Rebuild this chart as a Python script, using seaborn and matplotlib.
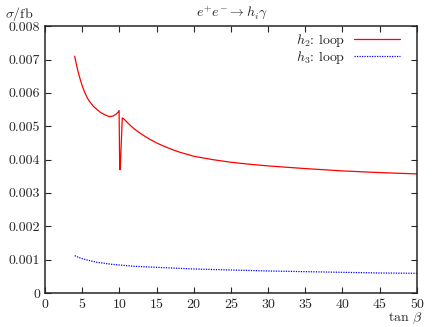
import numpy as np
import seaborn as sns
import matplotlib.pyplot as plt
from matplotlib.ticker import FuncFormatter

# dane
tanb_h2 = [4, 4.25, 4.5, 4.75, 5, 5.25, 5.5, 5.75, 6, 6.5, 7, 7.5, 8, 8.5, 8.8, 9.2, 9.5, 9.8,
           9.97, 10.05, 10.12, 10.4, 10.7, 11, 11.5, 12, 13, 14, 15, 16, 17, 18, 20,
           22.5, 25, 27.5, 30, 35, 40, 45, 50]
sigma_h2 = [0.0071, 0.00683, 0.0066, 0.0064, 0.00622, 0.00607, 0.00594, 0.00583, 0.00574,
            0.0056, 0.0055, 0.00541, 0.00535, 0.0053, 0.00529, 0.00531, 0.00535, 0.00541,
            0.00547, 0.0037, 0.0037, 0.00525, 0.0052, 0.00513, 0.00502, 0.00492, 0.00476,
            0.00462, 0.0045, 0.0044, 0.00431, 0.00423, 0.0041, 0.004, 0.00392, 0.00386,
            0.00381, 0.00373, 0.00366, 0.00361, 0.00357]
tanb_h3 = [4, 4.5, 5, 5.5, 6, 7, 8, 9, 10, 12, 15, 20, 25, 30, 35, 40, 45, 50]
sigma_h3 = [0.00112, 0.00107, 0.00103, 0.001, 0.00097, 0.00092, 0.00089, 0.00086, 0.00084,
            0.0008, 0.00077, 0.00072, 0.00069, 0.00066, 0.00064, 0.00062, 0.0006, 0.00059]

sns.set_style('ticks')
plt.rcParams['font.family'] = 'serif'
plt.rcParams['font.serif'] = ['cmr10', 'DejaVu Serif']
plt.rcParams['mathtext.fontset'] = 'cm'
plt.rcParams['axes.unicode_minus'] = False

fig = plt.figure(figsize=(4.32, 3.27), dpi=100)
ax = fig.add_axes([0.104, 0.104, 0.861, 0.816])

sns.lineplot(x=tanb_h2, y=sigma_h2, ax=ax, color='red', lw=0.9, estimator=None,
             label=r'$h_2$: loop')
sns.lineplot(x=tanb_h3, y=sigma_h3, ax=ax, color='blue', lw=0.9, estimator=None,
             linestyle=(0, (1, 1)), label=r'$h_3$: loop')

ax.set_xlim(0, 50)
ax.set_ylim(0, 0.008)
ax.set_xticks(np.arange(0, 51, 5))
ax.set_yticks(np.arange(0, 0.0081, 0.001))
ax.yaxis.set_major_formatter(FuncFormatter(lambda v, p: '0' if abs(v) < 1e-9 else f'{v:.3f}'))
ax.tick_params(direction='in', top=True, right=True, labelsize=10, length=4, width=0.8)
ax.tick_params(axis='x', pad=4)
for s in ax.spines.values():
    s.set_linewidth(1.1)
ax.set_xlabel('')
ax.set_ylabel('')

fig.text(0.012, 0.985, r'$\sigma/\mathrm{fb}$', fontsize=10, va='top', ha='left')
fig.text(0.537, 0.985, r'$e^{+}e^{-}\rightarrow h_i\gamma$', fontsize=10, va='top', ha='center')
fig.text(0.978, 0.004, r'$\tan\,\beta$', fontsize=10, va='bottom', ha='right')

leg = ax.legend(loc='upper right', bbox_to_anchor=(0.969, 1.0), frameon=False,
                markerfirst=False, fontsize=10, handlelength=3.3, borderaxespad=0,
                labelspacing=0.0, handletextpad=0.6)

fig.savefig('out.png', dpi=100)
